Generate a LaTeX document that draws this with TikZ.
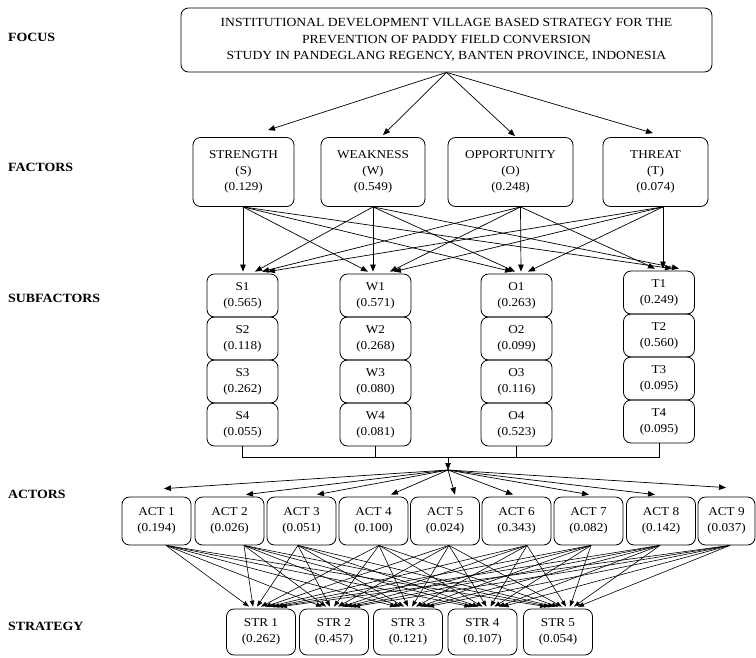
\documentclass[tikz,border=0pt]{standalone}
\usepackage{fontspec}
\setmainfont[FakeStretch=1.1]{Liberation Serif}
\usetikzlibrary{arrows.meta,calc}
\begin{document}
\begin{tikzpicture}[x=1pt,y=-1pt,
  every node/.style={font=\fontsize{12}{16}\selectfont},
  box/.style={draw, rounded corners=7.5pt, line width=0.8pt, align=center, inner sep=0pt},
  fbox/.style={box, minimum height=69pt},
  sbox/.style={box, minimum width=71pt, minimum height=43pt},
  abox/.style={box, minimum width=69pt, minimum height=48pt},
  tbox/.style={box, minimum width=69pt, minimum height=46pt},
  lvl/.style={anchor=west, inner sep=0pt, font=\bfseries\fontsize{12.6}{14}\selectfont},
  arr/.style={-{Triangle[length=7pt,width=5.5pt]}, line width=0.7pt},
  arrs/.style={-{Triangle[length=6pt,width=4.5pt]}, line width=0.6pt},
  ln/.style={line width=0.8pt}]
\useasboundingbox (0,0) rectangle (756,657);

% level labels
\node[lvl] (lfocus) at (8,37) {FOCUS};
\node[lvl] (lfact) at (8,167) {FACTORS};
\node[lvl] (lsub) at (8,298) {SUBFACTORS};
\node[lvl] (lact) at (8,494) {ACTORS};
\node[lvl] (lstr) at (8,626) {STRATEGY};

% focus
\node[box, minimum width=531pt, minimum height=64pt, font=\fontsize{12.4}{16.5}\selectfont] (focus) at (446.5,40)
  {INSTITUTIONAL DEVELOPMENT VILLAGE BASED STRATEGY FOR THE\\
   PREVENTION OF PADDY FIELD CONVERSION\\
   STUDY IN PANDEGLANG REGENCY, BANTEN PROVINCE, INDONESIA};

% factors
\node[fbox, minimum width=101pt] (fS) at (243.5,172) {STRENGTH\\(S)\\(0.129)};
\node[fbox, minimum width=104pt] (fW) at (373,172) {WEAKNESS\\(W)\\(0.549)};
\node[fbox, minimum width=125pt] (fO) at (510.5,172) {OPPORTUNITY\\(O)\\(0.248)};
\node[fbox, minimum width=105pt] (fT) at (655.5,172) {THREAT\\(T)\\(0.074)};

\draw[arr] (focus.south) -- ($(fS.north)+(24.5,-7)$);
\draw[arr] (focus.south) -- ($(fW.north)+(10,-2)$);
\draw[arr] (focus.south) -- ($(fO.north)+(4.5,-1)$);
\draw[arr] (focus.south) -- ($(fT.north)+(-2.5,-4)$);

% subfactors
\node[sbox] (s1) at (242.5,295.5) {S1\\(0.565)};
\node[sbox] (s2) at (242.5,338.5) {S2\\(0.118)};
\node[sbox] (s3) at (242.5,381.5) {S3\\(0.262)};
\node[sbox] (s4) at (242.5,424.5) {S4\\(0.055)};
\node[sbox] (w1) at (375.5,295.5) {W1\\(0.571)};
\node[sbox] (w2) at (375.5,338.5) {W2\\(0.268)};
\node[sbox] (w3) at (375.5,381.5) {W3\\(0.080)};
\node[sbox] (w4) at (375.5,424.5) {W4\\(0.081)};
\node[sbox] (o1) at (516.5,295.5) {O1\\(0.263)};
\node[sbox] (o2) at (516.5,338.5) {O2\\(0.099)};
\node[sbox] (o3) at (516.5,381.5) {O3\\(0.116)};
\node[sbox] (o4) at (516.5,424.5) {O4\\(0.523)};
\node[sbox] (t1) at (659,292.5) {T1\\(0.249)};
\node[sbox] (t2) at (659,335.5) {T2\\(0.560)};
\node[sbox] (t3) at (659,378.5) {T3\\(0.095)};
\node[sbox] (t4) at (659,421.5) {T4\\(0.095)};

% factor -> subfactor arrows
\coordinate (eS) at ($(fS.south)+(-0.5,0)$);
\coordinate (eW) at ($(fW.south)+(0,0)$);
\coordinate (eO) at ($(fO.south)+(10,0)$);
\coordinate (eT) at ($(fT.south)+(7.5,0)$);
\draw[arr] (eS) -- ($(s1.north)+(0.5,-2)$);
\draw[arr] (eW) -- ($(s1.north)+(12.5,-2)$);
\draw[arr] (eO) -- ($(s1.north)+(19.5,-2)$);
\draw[arr] (eT) -- ($(s1.north)+(25.5,-2)$);
\draw[arr] (eS) -- ($(w1.north)+(-7.5,-2)$);
\draw[arr] (eW) -- ($(w1.north)+(-2.5,-2)$);
\draw[arr] (eO) -- ($(w1.north)+(14.5,-2)$);
\draw[arr] (eT) -- ($(w1.north)+(18.5,-2)$);
\draw[arr] (eS) -- ($(o1.north)+(-4.5,-2)$);
\draw[arr] (eW) -- ($(o1.north)+(-1.5,-2)$);
\draw[arr] (eO) -- ($(o1.north)+(4.5,-2)$);
\draw[arr] (eT) -- ($(o1.north)+(11.5,-2)$);
\draw[arr] (eO) -- ($(t1.north)+(-4,-2)$);
\draw[arr] (eT) -- ($(t1.north)+(4,-2)$);
\draw[arr] (eS) -- ($(t1.north)+(13,-2)$);
\draw[arr] (eW) -- ($(t1.north)+(20,-2)$);

% bus
\coordinate (bus) at (448,457);
\coordinate (hub) at (448,470);
\draw[ln] (s4.south) |- (bus);
\draw[ln] (t4.south) |- (bus);
\draw[ln] (w4.south) -- (w4.south |- bus);
\draw[ln] (o4.south) -- (o4.south |- bus);
\draw[arr] (bus) -- (hub);

% actors
\node[abox] (a1) at (156.5,521) {ACT 1\\(0.194)};
\node[abox] (a2) at (229.5,521) {ACT 2\\(0.026)};
\node[abox] (a3) at (301.5,521) {ACT 3\\(0.051)};
\node[abox] (a4) at (373.5,521) {ACT 4\\(0.100)};
\node[abox] (a5) at (445,521) {ACT 5\\(0.024)};
\node[abox] (a6) at (516.5,521) {ACT 6\\(0.343)};
\node[abox] (a7) at (588.5,521) {ACT 7\\(0.082)};
\node[abox] (a8) at (661,521) {ACT 8\\(0.142)};
\node[abox, minimum width=57pt] (a9) at (726.5,521) {ACT 9\\(0.037)};

\draw[arr] (hub) -- ($(a1.north)+(7.5,-8)$);
\draw[arr] (hub) -- ($(a2.north)+(16.5,-2)$);
\draw[arr] (hub) -- ($(a3.north)+(15.5,-2)$);
\draw[arr] (hub) -- ($(a4.north)+(17.5,-2)$);
\draw[arr] (hub) -- ($(a5.north)+(10,-2)$);
\draw[arr] (hub) -- ($(a6.north)+(-3.5,-2)$);
\draw[arr] (hub) -- ($(a7.north)+(0.5,-2)$);
\draw[arr] (hub) -- ($(a8.north)+(-6,-2)$);
\draw[arr] (hub) -- ($(a9.north)+(-0.5,-9)$);

% strategies
\node[tbox] (str1) at (261,632) {STR 1\\(0.262)};
\node[tbox] (str2) at (334,632) {STR 2\\(0.457)};
\node[tbox] (str3) at (408,632) {STR 3\\(0.121)};
\node[tbox] (str4) at (482.5,632) {STR 4\\(0.107)};
\node[tbox] (str5) at (558,632) {STR 5\\(0.054)};

\foreach \i/\sx in {1/9.5,2/14.5,3/-3.5,4/5.5,5/4,6/10.5,7/2.5,8/-1,9/3.5}{
  \foreach \j in {1,...,5}{
    \draw[arrs] ($(a\i.south)+(\sx,0)$) -- ($(str\j.north)+({-12+4*(\i-1)},-2)$);
  }
}
\end{tikzpicture}
\end{document}
